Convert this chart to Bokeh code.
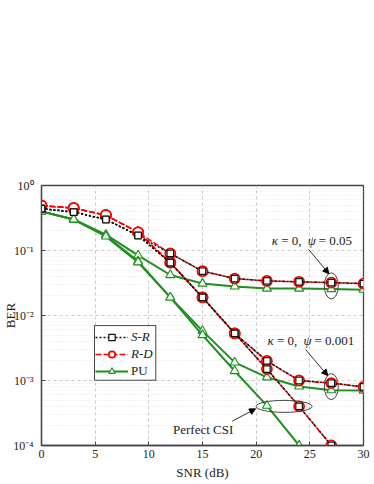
from bokeh.plotting import figure
from bokeh.models import (FixedTicker, CustomJSTickFormatter, Legend, LegendItem,
                          Label, Arrow, NormalHead, BoxAnnotation)
from bokeh.embed import file_html
from bokeh.resources import INLINE

# ---------------- data ----------------
snr = [0, 3, 6, 9, 12, 15, 18, 21, 24, 27, 30]

# kappa = 0, psi = 0.05
sr_psi005 = [0.44, 0.39, 0.30, 0.17, 0.090, 0.048, 0.037, 0.034, 0.033, 0.032, 0.031]
rd_psi005 = [0.49, 0.45, 0.35, 0.19, 0.090, 0.048, 0.037, 0.034, 0.033, 0.032, 0.031]
pu_psi005 = [0.40, 0.30, 0.175, 0.084, 0.042, 0.031, 0.028, 0.026, 0.026, 0.0255, 0.025]

# kappa = 0, psi = 0.001
sr_psi0001 = [0.44, 0.39, 0.30, 0.17, 0.065, 0.019, 0.0053, 0.0020, 0.0010, 0.00091, 0.00080]
rd_psi0001 = [0.49, 0.45, 0.35, 0.19, 0.065, 0.019, 0.0053, 0.0020, 0.0010, 0.00091, 0.00080]
pu_psi0001 = [0.40, 0.30, 0.168, 0.068, 0.019, 0.0058, 0.0019, 0.00112, 0.00081, 0.00071, 0.00070]

# perfect CSI
sr_perfect = [0.44, 0.39, 0.30, 0.17, 0.065, 0.019, 0.0053, 0.0015, 0.0004, 0.0001, 0.000025]
rd_perfect = [0.49, 0.45, 0.35, 0.19, 0.065, 0.019, 0.0053, 0.0015, 0.0004, 0.0001, 0.000025]
pu_perfect = [0.40, 0.30, 0.165, 0.066, 0.019, 0.005, 0.0014, 0.00041, 0.0001, 0.000024, 0.000006]

x_ticks = [0, 5, 10, 15, 20, 25, 30]
y_ticks = [1.0, 1e-1, 1e-2, 1e-3, 1e-4]
y_tick_labels = ["10\u2070", "10\u207b\u00b9", "10\u207b\u00b2", "10\u207b\u00b3", "10\u207b\u2074"]

x_title = "SNR (dB)"
y_title = "BER"
legend_labels = ["S-R", "R-D", "PU"]
annot_psi005 = ["\u03ba", "= 0,", "\u03c8", "= 0.05"]
annot_psi0001 = ["\u03ba", "= 0,", "\u03c8", "= 0.001"]
annot_perfect = "Perfect CSI"

FONT = "Liberation Serif"
RED = "#ff0000"
GREEN = "#1f8f1f"
BLACK = "#111111"
TXT = "#222222"

p = figure(width=372, height=483, x_range=(0, 30), y_range=(1e-4, 1.0),
           y_axis_type="log", output_backend="svg", toolbar_location=None,
           min_border_left=41, min_border_right=9, min_border_top=185,
           min_border_bottom=38)
p.background_fill_color = "white"
p.border_fill_color = "white"
p.outline_line_color = "#444444"
p.outline_line_width = 1.3

# ticks / grid
xt = FixedTicker(ticks=x_ticks)
minor_y = [m * d for d in [1e-4, 1e-3, 1e-2, 1e-1] for m in range(2, 10)]
yt = FixedTicker(ticks=y_ticks, minor_ticks=minor_y)
p.xaxis.ticker = xt
p.yaxis.ticker = yt
p.xgrid.ticker = xt
p.ygrid.ticker = yt
p.yaxis.formatter = CustomJSTickFormatter(args=dict(labels=y_tick_labels),
                                          code="return labels[Math.round(-Math.log10(tick))];")

for ax in (p.xaxis[0], p.yaxis[0]):
    ax.axis_line_color = "#444444"
    ax.axis_line_width = 1.3
    ax.major_tick_in = 4
    ax.major_tick_out = 0
    ax.major_tick_line_color = "#444444"
    ax.minor_tick_line_color = None
    ax.major_label_text_font = FONT
    ax.major_label_text_font_size = "12px"
    ax.major_label_text_color = TXT
    ax.axis_label_text_font = FONT
    ax.axis_label_text_font_size = "13px"
    ax.axis_label_text_font_style = "normal"
    ax.axis_label_text_color = TXT
p.xaxis.axis_label = x_title
p.yaxis.axis_label = y_title
p.xaxis.major_label_standoff = 4
p.xaxis.axis_label_standoff = 4
p.yaxis.major_label_standoff = 4
p.yaxis.axis_label_standoff = -8

p.xgrid.grid_line_color = "#bbbbbb"
p.xgrid.grid_line_dash = "3 3"
p.xgrid.grid_line_width = 0.8
p.ygrid.grid_line_color = "#bbbbbb"
p.ygrid.grid_line_dash = "3 3"
p.ygrid.grid_line_width = 0.8
p.ygrid.minor_grid_line_color = "#dddddd"
p.ygrid.minor_grid_line_dash = "1 2"
p.ygrid.minor_grid_line_width = 0.8

# ---------------- curves ----------------
pu_sets = [pu_psi005, pu_psi0001, pu_perfect]
rd_sets = [rd_psi005, rd_psi0001, rd_perfect]
sr_sets = [sr_psi005, sr_psi0001, sr_perfect]

leg = {}
for ys in pu_sets:
    l = p.line(snr, ys, line_color=GREEN, line_width=2)
    s = p.scatter(snr, ys, marker="triangle", size=9, line_color=GREEN,
                  line_width=1.1, fill_color="#f4fbf4")
    leg.setdefault("PU", [l, s])
for ys in rd_sets:
    l = p.line(snr, ys, line_color=RED, line_width=1.5, line_dash="6 2")
    s = p.scatter(snr, ys, marker="circle", size=10, line_color=RED,
                  line_width=1.8, fill_color="white")
    leg.setdefault("R-D", [l, s])
for ys in sr_sets:
    l = p.line(snr, ys, line_color=BLACK, line_width=1.5, line_dash="2 2")
    s = p.scatter(snr, ys, marker="square", size=6.5, line_color=BLACK,
                  line_width=1.2, fill_color="white")
    leg.setdefault("S-R", [l, s])

# legend frame (white box with border), then two borderless legends on it:
# S-R / R-D in italics, PU upright
p.add_layout(BoxAnnotation(left=4.94, right=10.65, bottom=0.00101, top=0.0070,
                           fill_color="white", fill_alpha=1.0,
                           line_color="#444444", line_width=1, line_alpha=1.0))


def make_legend(labels, loc, style):
    lg = Legend(items=[LegendItem(label=lab, renderers=leg[lab]) for lab in labels],
                location=loc)
    lg.label_text_font = FONT
    lg.label_text_font_size = "13px"
    lg.label_text_font_style = style
    lg.label_text_color = TXT
    lg.glyph_width = 33
    lg.glyph_height = 16
    lg.label_standoff = 3
    lg.spacing = 1
    lg.padding = 0
    lg.margin = 0
    lg.border_line_color = None
    lg.background_fill_alpha = 0.0
    return lg


p.add_layout(make_legend(legend_labels[:2], (54, 83), "italic"), "center")
p.add_layout(make_legend(legend_labels[2:], (54, 66), "normal"), "center")

# ---------------- annotations ----------------
ell_kw = dict(width_units="screen", height_units="screen", fill_color=None,
              line_color="#444444", line_width=1)
p.ellipse(x=[27], y=[0.0286], width=14, height=26, **ell_kw)
p.ellipse(x=[27], y=[0.000805], width=14, height=26, **ell_kw)
p.ellipse(x=[22.6], y=[0.0004], width=56, height=12, **ell_kw)

head = dict(size=6, fill_color="black", line_color="black")
p.add_layout(Arrow(end=NormalHead(**head), x_start=24.9, y_start=0.1035,
                   x_end=26.77, y_end=0.0438, line_width=0.8, line_color="black"))
p.add_layout(Arrow(end=NormalHead(**head), x_start=24.6, y_start=0.0030,
                   x_end=26.67, y_end=0.00119, line_width=0.8, line_color="black"))
p.add_layout(Arrow(end=NormalHead(**head), x_start=17.77, y_start=0.000236,
                   x_end=19.94, y_end=0.000367, line_width=0.8, line_color="black"))

offsets = [0, 9.5, 36, 47]
styles = ["italic", "normal", "italic", "normal"]
for texts, (ax_, ay_) in ((annot_psi005, (21.45, 0.1425)), (annot_psi0001, (21.05, 0.00412))):
    for t, off, st in zip(texts, offsets, styles):
        p.add_layout(Label(x=ax_, y=ay_, x_offset=off, text=t, text_font=FONT,
                           text_font_size="13px", text_font_style=st,
                           text_baseline="middle", text_color=TXT))
p.add_layout(Label(x=12.25, y=0.000176, text=annot_perfect, text_font=FONT,
                   text_font_size="13px", text_baseline="middle", text_color=TXT))

open("out.html", "w").write(file_html(p, INLINE))
